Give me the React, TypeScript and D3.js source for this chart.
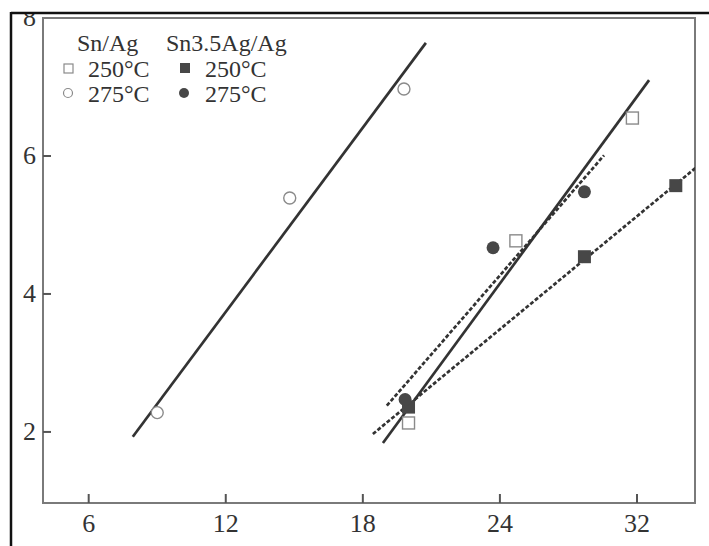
import React from "react";
import * as d3 from "d3";

const xTickValues = [6, 12, 18, 24, 30];
const xTickLabels = ["6", "12", "18", "24", "32"];
const yTickValues = [2, 4, 6, 8];
const yTickLabels = ["2", "4", "6", "8"];

const snAg250X = [20, 24.7, 29.8];
const snAg250Y = [2.13, 4.77, 6.55];
const snAg275X = [9, 14.8, 19.8];
const snAg275Y = [2.28, 5.39, 6.97];
const sn35Ag250X = [20, 27.7, 31.7];
const sn35Ag250Y = [2.36, 4.54, 5.57];
const sn35Ag275X = [19.85, 23.7, 27.7];
const sn35Ag275Y = [2.47, 4.67, 5.48];

// fitted lines: [x0, y0, x1, y1]
const fitSnAg275 = [7.93, 1.93, 20.76, 7.64];
const fitSnAg250 = [18.88, 1.84, 30.53, 7.1];
const fitSn35Ag275 = [19.05, 2.38, 28.56, 6.01];
const fitSn35Ag250 = [18.44, 1.97, 33.2, 6.0];

const W = 709;
const H = 546;
const L = 43, R = 695, T = 18, B = 503;

export default function App() {
  const x = d3.scaleLinear().domain([4, 32.54]).range([L, R]);
  const y = d3.scaleLinear().domain([0.97, 8]).range([B, T]);
  const line = d3.line<[number, number]>().x((d) => x(d[0])).y((d) => y(d[1]));
  const seg = (f: number[]) => line([[f[0], f[1]], [f[2], f[3]]]) || "";
  const font = "'Liberation Serif', 'Times New Roman', serif";
  const dark = "#333";
  const openStroke = "#8a8a8a";
  const fill = "#474747";
  const sq = 12;

  return (
    <svg width={W} height={H} style={{ position: "absolute", left: 0, top: 0, background: "#fff" }}>
      <defs>
        <clipPath id="plot">
          <rect x={L} y={T} width={R - L} height={B - T} />
        </clipPath>
        <clipPath id="page">
          <rect x={12} y={14} width={W} height={H} />
        </clipPath>
      </defs>
      <rect x={0} y={0} width={W} height={H} fill="#fff" />
      {/* plot box */}
      <rect x={L} y={T} width={R - L} height={B - T} fill="none" stroke="#7a7a7a" strokeWidth={2} />
      {/* ticks */}
      {xTickValues.map((v) => (
        <line key={"xt" + v} x1={x(v)} x2={x(v)} y1={B} y2={B - 9} stroke="#555" strokeWidth={2} />
      ))}
      {yTickValues.slice(0, 3).map((v) => (
        <line key={"yt" + v} x1={L} x2={L + 8} y1={y(v)} y2={y(v)} stroke="#555" strokeWidth={2} />
      ))}
      {xTickValues.map((v, i) => (
        <text key={"xl" + v} x={x(v)} y={532} textAnchor="middle" fontFamily={font} fontSize={26} fill={dark}>
          {xTickLabels[i]}
        </text>
      ))}
      <g clipPath="url(#page)">
        {yTickValues.map((v, i) => (
          <text key={"yl" + v} x={36} y={y(v) + 8} textAnchor="end" fontFamily={font} fontSize={26} fill={dark}>
            {yTickLabels[i]}
          </text>
        ))}
      </g>
      {/* fit lines */}
      <g clipPath="url(#plot)" fill="none">
        <path d={seg(fitSnAg275)} stroke={dark} strokeWidth={2.7} />
        <path d={seg(fitSnAg250)} stroke={dark} strokeWidth={2.7} />
        <path d={seg(fitSn35Ag275)} stroke={dark} strokeWidth={2.7} strokeDasharray="4 2" />
        <path d={seg(fitSn35Ag250)} stroke={dark} strokeWidth={2.7} strokeDasharray="4 2" />
      </g>
      {/* markers */}
      {snAg250X.map((v, i) => (
        <rect key={"a" + i} x={x(v) - sq / 2} y={y(snAg250Y[i]) - sq / 2} width={sq} height={sq} fill="#fff" stroke={openStroke} strokeWidth={1.4} />
      ))}
      {snAg275X.map((v, i) => (
        <circle key={"b" + i} cx={x(v)} cy={y(snAg275Y[i])} r={6} fill="#fff" stroke={openStroke} strokeWidth={1.4} />
      ))}
      {sn35Ag250X.map((v, i) => (
        <rect key={"c" + i} x={x(v) - 6.5} y={y(sn35Ag250Y[i]) - 6.5} width={13} height={13} fill={fill} />
      ))}
      {sn35Ag275X.map((v, i) => (
        <circle key={"d" + i} cx={x(v)} cy={y(sn35Ag275Y[i])} r={6.5} fill={fill} />
      ))}
      {/* legend */}
      <g fontFamily={font} fontSize={24} fill={dark}>
        <text x={77} y={51}>Sn/Ag</text>
        <text x={166} y={51}>Sn3.5Ag/Ag</text>
        <rect x={64} y={64} width={9} height={9} fill="#fff" stroke={openStroke} strokeWidth={1.2} />
        <text x={88} y={77}>250°C</text>
        <circle cx={68} cy={93} r={4.5} fill="#fff" stroke={openStroke} strokeWidth={1.2} />
        <text x={88} y={102}>275°C</text>
        <rect x={180} y={63} width={10} height={10} fill={fill} />
        <text x={205} y={77}>250°C</text>
        <circle cx={184} cy={93} r={5} fill={fill} />
        <text x={205} y={102}>275°C</text>
      </g>
      {/* outer frame */}
      <line x1={11} x2={W} y1={13} y2={13} stroke="#111" strokeWidth={2.5} />
      <line x1={11} x2={11} y1={12} y2={H} stroke="#111" strokeWidth={2.5} />
    </svg>
  );
}
